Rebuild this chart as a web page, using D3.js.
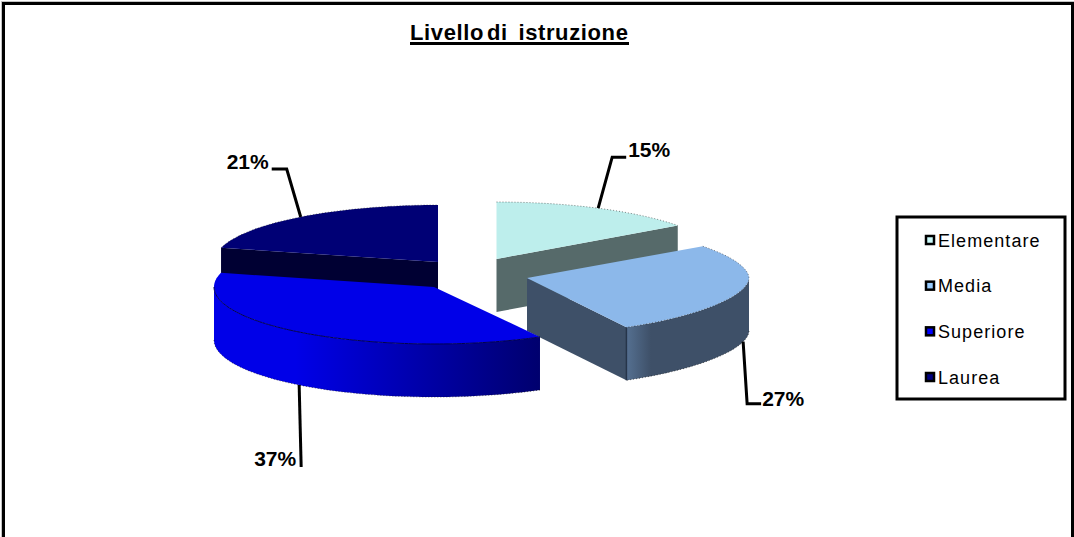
<!DOCTYPE html>
<html>
<head>
<meta charset="utf-8">
<style>
  html, body { margin: 0; padding: 0; background: #fff; }
  svg { display: block; }
  text { font-family: "Liberation Sans", Arial, sans-serif; fill: #000; }
</style>
<script src="https://cdn.jsdelivr.net/npm/d3@7"></script>
</head>
<body>
<svg id="chart" width="1074" height="537"></svg>
<script>
const titleWords = ["Livello", "di", "istruzione"];
const categories = ["Elementare", "Media", "Superiore", "Laurea"];
const shares = [15, 27, 37, 21];
const topColors = ["#bdeeec", "#8cb8ea", "#0000e8", "#000075"];
const cutColors = ["#566a6a", "#3e5068", "#00007a", "#000033"];
const wallColors = [null, ["#557091", "#3e5068"], ["#0000e8", "#00006e"], null];
const swatchColors = ["#ccfbfb", "#99ccff", "#0000ff", "#000080"];

// Tilted pie: ellipse radii, rim squareness, extrusion, and each exploded slice's apex.
const radiiX = [224, 222, 220, 224];
const rimPower = [1, 1.1, 1, 1];
const ry = 57, depth = 53;
const apexes = [[496.5, 259], [527, 278], [434, 287], [438, 262]];
// Elbow, end and label offsets for each leader line, relative to its rim anchor.
const leaders = [
  { elbow: [14, -51], end: [28, -51], label: [30, -59] },
  { elbow: [4, 62], end: [18, 62], label: [19, 57] },
  { elbow: [2, 82], end: [2, 82], label: [-3, 74] },
  { elbow: [-14, -48], end: [-29, -48], label: [-32, -55] }
];

const svg = d3.select("#chart");
const arcs = d3.pie().sort(null).value(d => d)(shares);
const line = d3.line();
const defs = svg.append("defs");

function rimPoints(a0, a1) {
  const n = Math.max(2, Math.ceil((a1 - a0) / 0.02));
  return d3.range(n + 1).map(i => a0 + (a1 - a0) * i / n);
}

// Pie angles run clockwise from twelve o'clock; project them on to the rim curve.
const signedPow = (v, e) => Math.sign(v) * Math.pow(Math.abs(v), e);
const projector = i => a => [
  signedPow(Math.sin(a), rimPower[i]) * radiiX[i],
  -signedPow(Math.cos(a), rimPower[i]) * ry
];

// Chart frame
svg.append("rect").attr("x", 1.5).attr("y", 1.5).attr("width", 1080).attr("height", 545)
  .attr("fill", "none").attr("stroke", "#c4c4c4").attr("stroke-width", 1);
svg.append("rect").attr("x", 3.5).attr("y", 3.5).attr("width", 1069).attr("height", 545)
  .attr("fill", "#fff").attr("stroke", "#000").attr("stroke-width", 3);

// Title with its underline; the two word gaps are of unequal width.
const title = svg.append("text").attr("x", 410).attr("y", 40)
  .attr("font-size", 22).attr("font-weight", "bold").attr("letter-spacing", 0.62);
title.append("tspan").text(titleWords[0]);
title.append("tspan").attr("font-size", 8).text(" ");
title.append("tspan").text(titleWords[1]);
title.append("tspan").attr("dx", 4).text(" ");
title.append("tspan").text(titleWords[2]);
svg.append("line").attr("x1", 410).attr("x2", 629).attr("y1", 43.4).attr("y2", 43.4)
  .attr("stroke", "#000").attr("stroke-width", 3);

// Back slices are painted first so the front ones can overlap them.
[3, 0, 1, 2].forEach(i => {
  const d = arcs[i];
  const p = projector(i);
  const [cx, cy] = apexes[i];
  const g = svg.append("g").attr("transform", `translate(${cx},${cy})`);
  const a0 = d.startAngle, a1 = d.endAngle;
  const extrude = pts => pts.concat(pts.slice().reverse().map(q => [q[0], q[1] + depth]));

  // Flat face left by the explosion, where one radial edge turns to the viewer.
  const cutAngle = { 0: a1, 1: a1, 3: a0 }[i];
  if (cutAngle !== undefined) {
    g.append("path").attr("d", line(extrude([[0, 0], p(cutAngle)])) + "Z").attr("fill", cutColors[i]);
  }

  // Outer wall: only the rim on the near half of the ellipse shows.
  if (wallColors[i]) {
    const pts = rimPoints(Math.max(a0, Math.PI / 2), Math.min(a1, Math.PI * 1.5)).map(p);
    const x0 = d3.min(pts, q => q[0]), x1 = d3.max(pts, q => q[0]);
    const id = "wall" + i;
    const grad = defs.append("linearGradient").attr("id", id)
      .attr("gradientUnits", "userSpaceOnUse")
      .attr("x1", i === 1 ? x0 : x0 + (x1 - x0) * 0.25).attr("y1", 0)
      .attr("x2", i === 1 ? x0 + (x1 - x0) * 0.2 : x1).attr("y2", 0);
    grad.append("stop").attr("offset", 0).attr("stop-color", wallColors[i][0]);
    grad.append("stop").attr("offset", 1).attr("stop-color", wallColors[i][1]);
    g.append("path").attr("d", line(extrude(pts)) + "Z").attr("fill", `url(#${id})`);
    // Dotted lower silhouette of the wall
    g.append("path").attr("d", line(pts.map(q => [q[0], q[1] + depth]))).attr("fill", "none")
      .attr("stroke", "#111").attr("stroke-width", 1).attr("stroke-dasharray", "1 2").attr("opacity", 0.6);
  }

  // Top face
  const rim = rimPoints(a0, a1).map(p);
  g.append("path").attr("d", line([[0, 0]].concat(rim)) + "Z").attr("fill", topColors[i]);
  if (i !== 2) {
    g.append("path").attr("d", line(rim)).attr("fill", "none")
      .attr("stroke", "#111").attr("stroke-width", 1).attr("stroke-dasharray", "1 2").attr("opacity", 0.5);
  }

  // Thin dark seam where the top meets the front wall of the largest slice
  if (i === 2) {
    g.append("path").attr("d", line(rimPoints(a0, Math.PI * 1.5).map(p))).attr("fill", "none")
      .attr("stroke", "#000050").attr("stroke-width", 1);
  }
  if (i === 1) {
    const [x, y] = p(a1);
    g.append("path").attr("d", line([[x, y], [x, y + depth]])).attr("stroke", "#26354a").attr("stroke-width", 1.5);
  }
});

// Leader lines and percentage labels
arcs.forEach((d, i) => {
  const mid = (d.startAngle + d.endAngle) / 2;
  const [cx, cy] = apexes[i];
  const [mx, my] = projector(i)(mid);
  const ax = cx + mx, ay = cy + my + (Math.cos(mid) < 0 ? depth : 0);
  const l = leaders[i];
  svg.append("path")
    .attr("d", line([[ax, ay], [ax + l.elbow[0], ay + l.elbow[1]], [ax + l.end[0], ay + l.end[1]]]))
    .attr("fill", "none").attr("stroke", "#000").attr("stroke-width", 3);
  svg.append("text")
    .attr("x", ax + l.label[0]).attr("y", ay + l.label[1]).attr("dy", "0.35em")
    .attr("text-anchor", l.label[0] < 10 ? "end" : "start")
    .attr("font-size", 21).attr("font-weight", "bold")
    .text(d.data + "%");
});

// Legend
const legend = svg.append("g");
legend.append("rect").attr("x", 897).attr("y", 217).attr("width", 168).attr("height", 182)
  .attr("fill", "#fff").attr("stroke", "#000").attr("stroke-width", 3);
const legendY = d3.scalePoint().domain(categories).range([240, 377]);
categories.forEach((c, i) => {
  const y = legendY(c);
  legend.append("rect").attr("x", 926).attr("y", y - 4).attr("width", 8).attr("height", 8)
    .attr("fill", swatchColors[i]).attr("stroke", "#000").attr("stroke-width", 2.5);
  legend.append("text").attr("x", 938).attr("y", y + 6.5).attr("font-size", 18)
    .attr("letter-spacing", 1.05).text(c);
});
</script>
</body>
</html>
